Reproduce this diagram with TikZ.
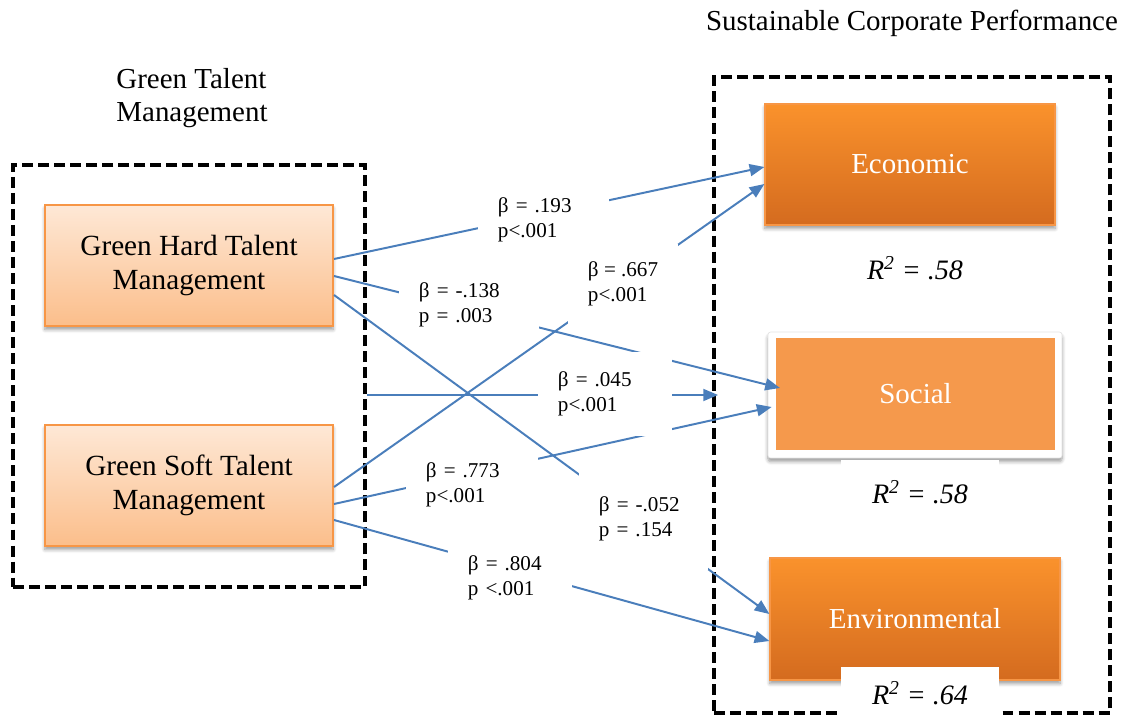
\documentclass[tikz,border=0pt]{standalone}
\usepackage{fontspec}
\setmainfont{Liberation Serif}
\usetikzlibrary{arrows.meta,calc,shadows.blur}

\definecolor{azul}{RGB}{74,126,187}
\definecolor{borde}{RGB}{247,150,70}
\definecolor{claroA}{RGB}{254,232,214}
\definecolor{claroB}{RGB}{251,190,139}
\definecolor{naranjaA}{RGB}{250,146,44}
\definecolor{naranjaB}{RGB}{212,107,31}
\definecolor{social}{RGB}{245,153,76}

\begin{document}
\begin{tikzpicture}[x=0.025cm,y=-0.025cm,line width=1.4pt,>={Triangle[length=10.5pt,width=8.5pt]},
  marco/.style={draw,line width=2.7pt,dash pattern=on 7.8pt off 3.6pt},
  sombra/.style={blur shadow={shadow xshift=0pt,shadow yshift=-2.5pt,shadow blur radius=2.5pt,
    shadow blur steps=6,shadow opacity=40}},
  claro/.style={draw=borde,line width=1.4pt,top color=claroA,bottom color=claroB,sombra,
    minimum width=7.2cm,minimum height=3.025cm,align=center,font=\fontsize{20.8}{24.2}\selectfont},
  fuerte/.style={draw=borde,line width=.8pt,top color=naranjaA,bottom color=naranjaB,sombra,
    text=white,minimum width=7.25cm,minimum height=3.025cm,font=\fontsize{20.6}{24}\selectfont},
  tit/.style={font=\fontsize{20.6}{23.5}\selectfont},
  rdos/.style={fill=white,minimum width=3.925cm,font=\fontsize{20}{24}\selectfont\itshape},
  coef/.style={fill=white,anchor=west,align=left,inner xsep=0.5cm,inner ysep=0pt,
    font=\fontsize{15}{17.8}\selectfont}]
  \useasboundingbox (0,0) rectangle (1127,715);
  % titulos
  \node[tit,align=left] (tG) at (192,98) {Green Talent\\Management};
  \node[tit] (tS) at (912,23) {Sustainable Corporate Performance};
  % marcos punteados
  \node[marco,minimum width=8.8cm,minimum height=10.55cm] (GTM) at (189,376) {};
  \node[marco,minimum width=9.9cm,minimum height=15.9cm] (SCP) at (912,395) {};
  % variables
  \node[claro] (H) at (189,265.5) {Green Hard Talent\\Management};
  \node[claro] (S) at (189,485.5) {Green Soft Talent\\Management};
  \node[fuerte] (Ec) at (910,164.5) {Economic};
  \node[fill=white,draw=black!10,line width=.5pt,rounded corners=2pt,sombra,
    minimum width=7.35cm,minimum height=3.15cm] (So0) at (915,395) {};
  \node[fill=social,text=white,minimum width=6.975cm,minimum height=2.8cm,
    font=\fontsize{20.6}{24}\selectfont] (So) at (915.5,394) {Social};
  \node[fuerte,minimum height=3.05cm] (En) at (915,619) {Environmental};
  % R^2
  \node[rdos] (r1) at (915,268) {R\textsuperscript{2} = .58};
  \node[rdos,minimum height=1.6cm] (r2) at (920,492) {R\textsuperscript{2} = .58};
  \node[rdos,minimum height=1.3cm] (r3) at (920,693) {R\textsuperscript{2} = .64};
  % efectos
  \draw[->,azul] (H.east |- 0,259) -- (Ec.west |- 0,167);
  \draw[->,azul] (H.east |- 0,276) -- ($(So.west |- 0,388)+(5,0)$);
  \draw[->,azul] (H.east |- 0,295) -- (En.west |- 0,614);
  \draw[->,azul] (S.east |- 0,487) -- (Ec.west |- 0,184);
  \draw[->,azul] (S.east |- 0,504) -- ($(So0.west |- 0,407)+(4,0)$);
  \draw[->,azul] (S.east |- 0,520) -- (En.west |- 0,641);
  \draw[->,azul] (GTM.east |- SCP.west) -- ($(SCP.west)+(6,0)$);
  % coeficientes
  \node[coef,text width=2.275cm,minimum height=1.5cm] (b1) at (477,220) {β = .193\\p<.001};
  \node[coef,text width=2.5cm,minimum height=1.25cm] (b2) at (398,305) {β = -.138\\p = .003};
  \node[coef,minimum height=2cm] (b3) at (567,284) {β = .667\\p<.001};
  \node[coef,text width=2.35cm,minimum height=2.1cm] (b4) at (537,394) {β = .045\\p<.001};
  \node[coef,text width=2.3cm,minimum height=1.5cm] (b5) at (405,485) {β = .773\\p<.001};
  \node[coef,text width=2.225cm,minimum height=2.55cm] (b6) at (578,519) {β = -.052\\p = .154};
  \node[coef,text width=2.1cm,minimum height=1.5cm] (b7) at (447,578) {β = .804\\p <.001};
\end{tikzpicture}
\end{document}
